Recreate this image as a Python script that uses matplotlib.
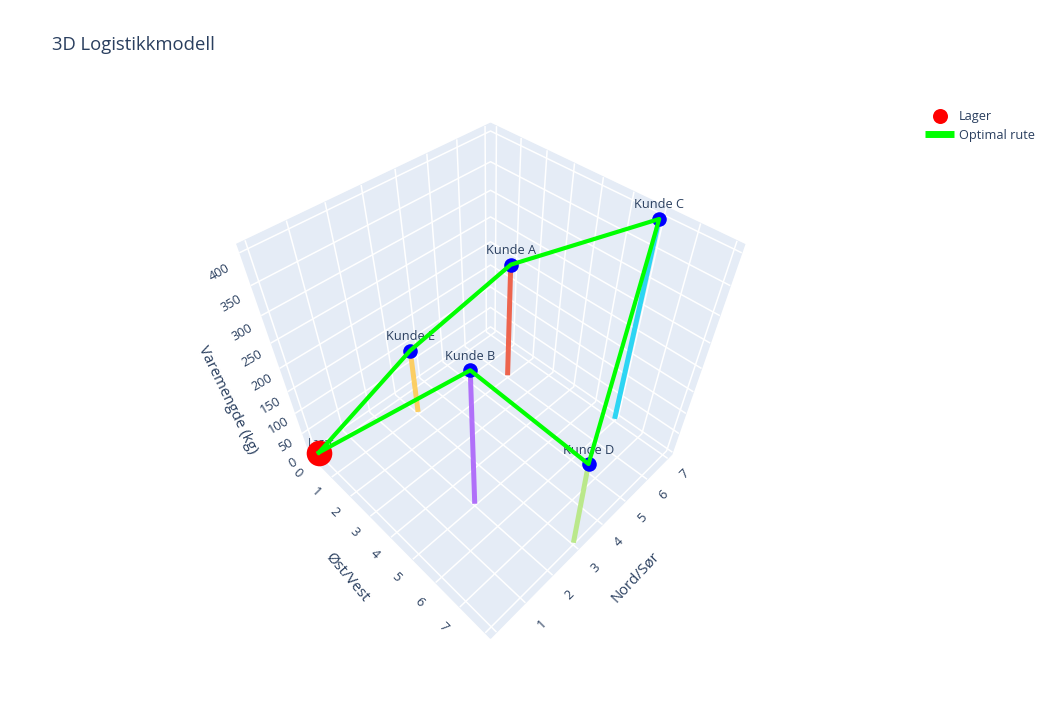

import matplotlib
matplotlib.use("Agg")
import matplotlib.pyplot as plt
from matplotlib.lines import Line2D
from mpl_toolkits.mplot3d import proj3d

TEKST = "#2a3f5f"
PANE = "#E5ECF6"

plt.rcParams["font.family"] = ["Open Sans", "DejaVu Sans"]
plt.rcParams["grid.color"] = "white"
plt.rcParams["grid.linewidth"] = 1.1

kunder = ["Kunde A", "Kunde B", "Kunde C", "Kunde D", "Kunde E"]
kunde_x = [2, 5, 6, 8, 1]
kunde_y = [6, 2, 7, 3, 3]
kunde_z = [250, 300, 400, 200, 150]
stolpe_farger = ["#EF553B", "#AB63FA", "#19D3F3", "#B6E880", "#FECB52"]

lager_x = [0]
lager_y = [0]
lager_z = [0]

rute = [4, 0, 2, 3, 1]  # Lager -> E -> A -> C -> D -> B -> Lager

x_grid = [0, 1, 2, 3, 4, 5, 6, 7, 8]
x_tick_labels = [0, 1, 2, 3, 4, 5, 6, 7]
y_grid = [0, 1, 2, 3, 4, 5, 6, 7]
y_tick_labels = [1, 2, 3, 4, 5, 6, 7]
z_ticks = [0, 50, 100, 150, 200, 250, 300, 350, 400]

X_LIM = (-0.25, 8.2)
Y_LIM = (-0.2, 7.2)
Z_LIM = (-6, 412)

W, H = 1052, 719
fig = plt.figure(figsize=(W / 100, H / 100), dpi=100)
side = 503
cx, cy = 490.5, 367
ax = fig.add_axes([(cx - 0.5135 * side) / W, (H - cy - 0.5135 * side) / H, side / W, side / H],
                  projection="3d")
ax.computed_zorder = False
ax.set_box_aspect((1, 1, 1))
ax.set_proj_type("persp", focal_length=0.24)
ax.view_init(elev=47, azim=-45)

ax.set_xlim(*X_LIM, view_margin=0)
ax.set_ylim(*Y_LIM, view_margin=0)
ax.set_zlim(*Z_LIM, view_margin=0)
M = ax.get_proj()


def projiser(x, y, z):
    px, py, _ = proj3d.proj_transform(x, y, z, M)
    return px, py


def punkt_tekst(x, y, z, tekst, dx=0, dy=14, fontsize=9.2, zorder=6):
    # tekst med fast pikselavstand fra et 3D-punkt
    ax.annotate(tekst, xy=projiser(x, y, z), xycoords="data", xytext=(dx * 0.72, dy * 0.72),
                textcoords="offset points", color=TEKST, fontsize=fontsize,
                ha="center", va="center", zorder=zorder)


def tick_tekst(x, y, z, tekst, rotation):
    px, py = projiser(x, y, z)
    ax.text2D(px, py, tekst, transform=ax.transData, color=TEKST, fontsize=9.2,
              rotation=rotation, ha="center", va="center", rotation_mode="anchor")


# stolper fra gulvet opp til kunden
for i in range(len(kunder)):
    ax.plot([kunde_x[i], kunde_x[i]], [kunde_y[i], kunde_y[i]], [0, kunde_z[i]],
            color=stolpe_farger[i], lw=3.6, alpha=0.9, zorder=2, solid_capstyle="butt")

punkt_tekst(lager_x[0], lager_y[0], lager_z[0], "Lager", dx=2, dy=9, fontsize=7, zorder=3)
ax.scatter(lager_x, lager_y, lager_z, color="red", s=340, depthshade=False, zorder=4,
           linewidths=0)
ax.scatter(kunde_x, kunde_y, kunde_z, color="blue", s=110, depthshade=False, zorder=5,
           linewidths=0)
for i, navn in enumerate(kunder):
    punkt_tekst(kunde_x[i], kunde_y[i], kunde_z[i], navn)

rx = lager_x + [kunde_x[i] for i in rute] + lager_x
ry = lager_y + [kunde_y[i] for i in rute] + lager_y
rz = lager_z + [kunde_z[i] for i in rute] + lager_z
ax.plot(rx, ry, rz, color="#00FF00", lw=3.0, zorder=7)

ax.set_xticks(x_grid)
ax.set_yticks(y_grid)
ax.set_zticks(z_ticks)
for akse in (ax.xaxis, ax.yaxis, ax.zaxis):
    akse.set_pane_color(PANE)
    akse.pane.set_edgecolor(PANE)
    akse.line.set_color("none")
    akse.set_tick_params(color="none")
    akse.set_ticklabels([])

# tick-tekstene roteres og plasseres for haand, som i 3D-scenen
for v in x_tick_labels:
    tick_tekst(v + 0.1, Y_LIM[0] - 0.6, Z_LIM[0], str(v), -45)
for v in y_tick_labels:
    tick_tekst(X_LIM[1] + 0.72, v - 0.1, Z_LIM[0], str(v), 45)
for v in z_ticks:
    tick_tekst(X_LIM[0] - 0.42, Y_LIM[0] - 0.42, v - 28, str(v), 30)

fig.text(347 / W, 1 - 577 / H, "Øst/Vest", fontsize=10.8, color=TEKST, rotation=-50,
         ha="center", va="center", rotation_mode="anchor")
fig.text(635 / W, 1 - 577 / H, "Nord/Sør", fontsize=10.6, color=TEKST, rotation=47,
         ha="center", va="center", rotation_mode="anchor")
fig.text(228 / W, 1 - 400 / H, "Varemengde (kg)", fontsize=10.8, color=TEKST, rotation=-64,
         ha="center", va="center", rotation_mode="anchor")

fig.text(52 / W, 1 - 45 / H, "3D Logistikkmodell", fontsize=13.3, color=TEKST, va="center")

handles = [
    Line2D([], [], color="none", marker="o", markerfacecolor="red", markeredgecolor="none",
           markersize=10.8, label="Lager"),
    Line2D([], [], color="#00FF00", lw=5, solid_capstyle="butt", label="Optimal rute"),
]
fig.legend(handles=handles, loc="upper left", bbox_to_anchor=(925 / W, 1 - 110 / H),
           frameon=False, fontsize=9.2, labelcolor=TEKST, handlelength=2.3, handletextpad=0.35,
           labelspacing=0.45, borderpad=0, borderaxespad=0)

fig.savefig("out.png", dpi=100)
